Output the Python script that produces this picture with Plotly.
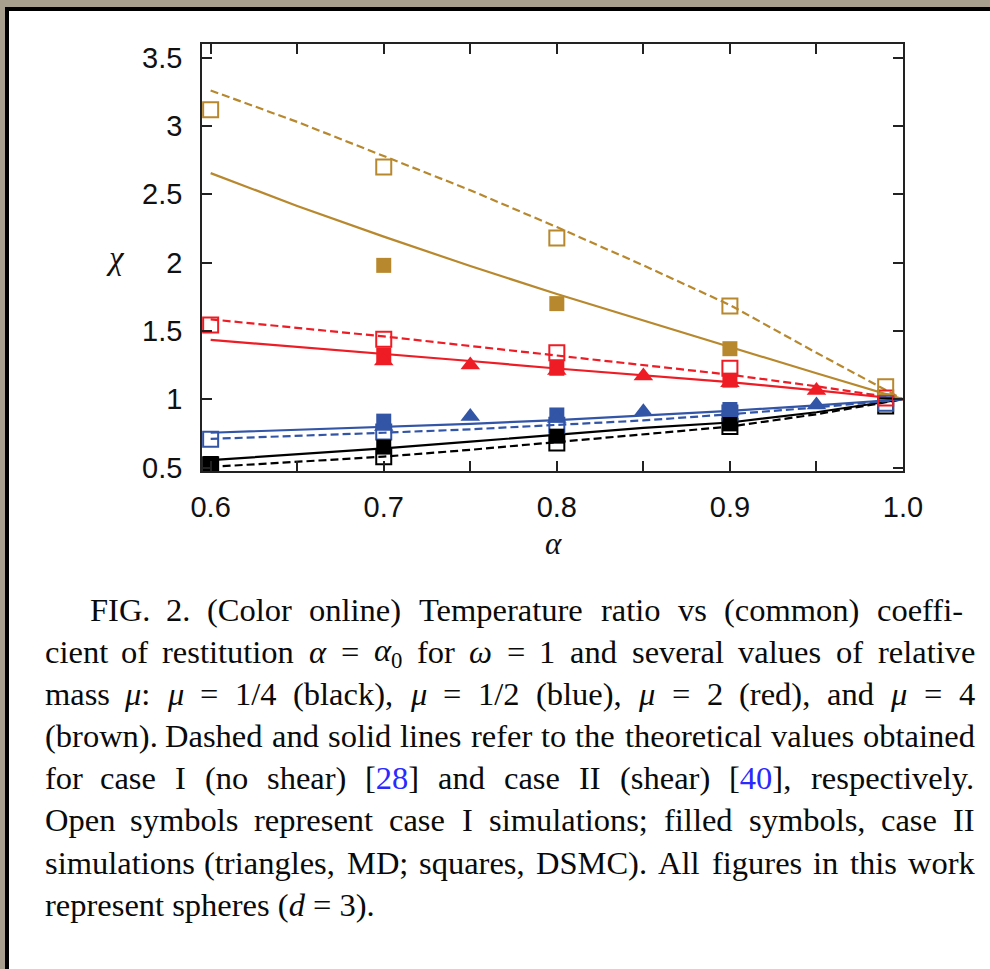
import re
import plotly.graph_objects as go

# ---------------- data ----------------
alpha_theory = [0.6, 0.65, 0.7, 0.75, 0.8, 0.85, 0.9, 0.95, 1.0]

# theory, case I (no shear) -> dashed ; case II (shear) -> solid
black_case1 = [0.505, 0.540, 0.580, 0.630, 0.685, 0.740, 0.800, 0.890, 1.0]
black_case2 = [0.555, 0.595, 0.640, 0.690, 0.740, 0.790, 0.830, 0.905, 1.0]
blue_case1 = [0.710, 0.730, 0.755, 0.780, 0.810, 0.845, 0.890, 0.940, 1.0]
blue_case2 = [0.755, 0.775, 0.795, 0.820, 0.848, 0.880, 0.915, 0.955, 1.0]
red_case1 = [1.585, 1.525, 1.460, 1.390, 1.320, 1.250, 1.180, 1.095, 1.0]
red_case2 = [1.435, 1.385, 1.335, 1.280, 1.225, 1.175, 1.125, 1.065, 1.0]
brown_case1 = [3.26, 3.03, 2.78, 2.53, 2.26, 1.98, 1.69, 1.34, 1.0]
brown_case2 = [2.655, 2.415, 2.19, 1.975, 1.77, 1.575, 1.385, 1.19, 1.0]

# case I simulations (open squares)
alpha_open = [0.6, 0.7, 0.8, 0.9, 0.99]
black_open = [0.52, 0.58, 0.68, 0.80, 0.95]
blue_open = [0.707, 0.76, 0.81, 0.90, 0.97]
red_open = [1.544, 1.44, 1.34, 1.227, 1.01]
brown_open = [3.118, 2.70, 2.18, 1.683, 1.092]

# case II DSMC simulations (filled squares)
alpha_dsmc_bk = [0.6, 0.7, 0.8, 0.9]
black_dsmc = [0.53, 0.65, 0.73, 0.82]
alpha_dsmc = [0.7, 0.8, 0.9]
blue_dsmc = [0.84, 0.885, 0.925]
red_dsmc = [1.324, 1.227, 1.14]
brown_dsmc = [1.98, 1.70, 1.37]

# case II MD simulations (filled triangles)
alpha_md = [0.7, 0.75, 0.8, 0.85, 0.9, 0.95]
blue_md = [0.80, 0.873, 0.86, 0.909, 0.915, 0.958]
red_md = [1.28, 1.25, 1.21, 1.17, 1.12, 1.065]

x_ticks = [0.6, 0.65, 0.7, 0.75, 0.8, 0.85, 0.9, 0.95, 1.0]
x_ticktext = ["0.6", "", "0.7", "", "0.8", "", "0.9", "", "1.0"]
y_ticks = [0.5, 1, 1.5, 2, 2.5, 3, 3.5]
y_ticktext = ["0.5", "1", "1.5", "2", "2.5", "3", "3.5"]

REF = "<span style='color:#2a2aff'>{}</span>"
caption_lines = [
    "FIG. 2. (Color online) Temperature ratio vs (common) coeffi-",
    "cient of restitution <i>α</i> = <i>α</i><sub>0</sub> for <i>ω</i> = 1 and several values of relative",
    "mass <i>μ</i>: <i>μ</i> = 1/4 (black), <i>μ</i> = 1/2 (blue), <i>μ</i> = 2 (red), and <i>μ</i> = 4",
    "(brown). Dashed and solid lines refer to the theoretical values obtained",
    "for case I (no shear) [" + REF.format("28") + "] and case II (shear) ["
    + REF.format("40") + "], respectively.",
    "Open symbols represent case I simulations; filled symbols, case II",
    "simulations (triangles, MD; squares, DSMC). All figures in this work",
    "represent spheres (<i>d</i> = 3).",
]

# ---------------- styling ----------------
BLACK = "#000000"
BLUE = "#3355a6"
RED = "#ee1c25"
BROWN = "#b8882e"

W, H = 990, 969
PX0, PX1, PY0, PY1 = 202, 903, 44, 471  # plotting area in pixels


def xp(px):
    return (px - PX0) / (PX1 - PX0)


def yp(py):
    return (PY1 - py) / (PY1 - PY0)


fig = go.Figure()

theory = [
    (black_case1, black_case2, BLACK),
    (blue_case1, blue_case2, BLUE),
    (red_case1, red_case2, RED),
    (brown_case1, brown_case2, BROWN),
]
for dashed, solid, col in theory:
    fig.add_trace(go.Scatter(x=alpha_theory, y=solid, mode="lines",
                             line=dict(color=col, width=2.2), showlegend=False))
    fig.add_trace(go.Scatter(x=alpha_theory, y=dashed, mode="lines",
                             line=dict(color=col, width=2.2, dash="8px,4px"),
                             showlegend=False))

for yv, col in [(black_open, BLACK), (blue_open, BLUE), (red_open, RED), (brown_open, BROWN)]:
    fig.add_trace(go.Scatter(x=alpha_open, y=yv, mode="markers",
                             marker=dict(symbol="square-open", size=15, color=col,
                                         line=dict(width=2, color=col)),
                             showlegend=False))

for xv, yv, col in [(alpha_dsmc_bk, black_dsmc, BLACK), (alpha_dsmc, blue_dsmc, BLUE),
                    (alpha_dsmc, red_dsmc, RED), (alpha_dsmc, brown_dsmc, BROWN)]:
    fig.add_trace(go.Scatter(x=xv, y=yv, mode="markers",
                             marker=dict(symbol="square", size=15, color=col,
                                         line=dict(width=0)),
                             showlegend=False))

for yv, col in [(blue_md, BLUE), (red_md, RED)]:
    fig.add_trace(go.Scatter(x=alpha_md, y=yv, mode="markers",
                             marker=dict(symbol="triangle-up", size=17, color=col,
                                         line=dict(width=0)),
                             showlegend=False))

axis_common = dict(
    showline=True, linewidth=1.6, linecolor="#222222", mirror="ticks",
    ticks="inside", ticklen=10, tickwidth=1.6, tickcolor="#222222",
    showgrid=False, zeroline=False,
    tickfont=dict(family="Liberation Sans, Arial, sans-serif", size=29, color="#111111"),
)

fig.update_xaxes(range=[0.595, 1.0], tickmode="array", tickvals=x_ticks,
                 ticktext=x_ticktext, ticklabelstandoff=9, **axis_common)
fig.update_yaxes(range=[0.475, 3.6], tickmode="array", tickvals=y_ticks,
                 ticktext=y_ticktext, ticklabelstandoff=12, **axis_common)

annotations = [
    dict(x=xp(115), y=yp(258), text="<i>χ</i>", showarrow=False,
         xref="paper", yref="paper", xanchor="center", yanchor="middle",
         font=dict(family="Liberation Serif, serif", size=33, color="#111111")),
    dict(x=xp(553), y=yp(543), text="<i>α</i>", showarrow=False,
         xref="paper", yref="paper", xanchor="center", yanchor="middle",
         font=dict(family="Liberation Serif, serif", size=31, color="#111111")),
]

# ---------------- justified caption ----------------
# advance widths of Liberation Serif (Times metrics), in 1/1000 em
_W = {" ": 250, "!": 333, "(": 333, ")": 333, ",": 250, "-": 333, ".": 250, "/": 278,
      ":": 278, ";": 278, "=": 564, "[": 333, "]": 333,
      "A": 722, "B": 667, "C": 667, "D": 722, "E": 611, "F": 556, "G": 722, "H": 722,
      "I": 333, "J": 389, "K": 722, "L": 611, "M": 889, "N": 722, "O": 722, "P": 556,
      "Q": 722, "R": 667, "S": 556, "T": 611, "U": 722, "V": 722, "W": 944, "X": 722,
      "Y": 722, "Z": 611,
      "a": 444, "b": 500, "c": 444, "d": 500, "e": 444, "f": 333, "g": 500, "h": 500,
      "i": 278, "j": 278, "k": 500, "l": 278, "m": 778, "n": 500, "o": 500, "p": 500,
      "q": 500, "r": 333, "s": 389, "t": 278, "u": 500, "v": 500, "w": 722, "x": 500,
      "y": 500, "z": 444, "α": 540, "μ": 520, "ω": 680}
for _d in "0123456789":
    _W[_d] = 500


def word_width(html, size):
    total = 0.0
    scale = 1.0
    for tok in re.split(r"(<[^>]+>)", html):
        if tok.startswith("<"):
            if tok == "<sub>":
                scale = 0.7
            elif tok == "</sub>":
                scale = 1.0
            continue
        for ch in tok:
            total += _W.get(ch, 500) * scale
    return total * size / 1000.0


def split_words(html):
    # split on spaces that are not inside a tag
    return re.split(r" (?![^<]*>)", html)


CAP_SIZE = 32.5
CAP_FONT = dict(family="Liberation Serif, Times New Roman, serif", size=CAP_SIZE, color="#0a0a0a")
line_y = [610, 652, 694, 736, 778, 820, 863, 905]
line_x = [88, 43, 43, 43, 43, 43, 43, 43]
line_right = [963, 975, 975, 975, 975, 975, 975, 975]

for i, (txt, ly, lx, rx) in enumerate(zip(caption_lines, line_y, line_x, line_right)):
    last = i == len(caption_lines) - 1
    if last:
        annotations.append(dict(x=xp(lx), y=yp(ly), text=txt, showarrow=False,
                                xref="paper", yref="paper", xanchor="left",
                                yanchor="middle", font=CAP_FONT))
        continue
    words = split_words(txt)
    widths = [word_width(w, CAP_SIZE) for w in words]
    gap = (rx - lx - sum(widths)) / (len(words) - 1)
    x = lx
    for k, (w, ww) in enumerate(zip(words, widths)):
        anchor, ax = ("left", x) if k == 0 else ("center", x + ww / 2)
        annotations.append(dict(x=xp(ax), y=yp(ly), text=w, showarrow=False,
                                xref="paper", yref="paper", xanchor=anchor,
                                yanchor="middle", font=CAP_FONT))
        x += ww + gap

# window frame around the page
shapes = [
    dict(type="rect", xref="paper", yref="paper", x0=xp(0), x1=xp(990), y0=yp(0), y1=yp(7),
         fillcolor="#a89f8f", line=dict(width=0), layer="above"),
    dict(type="rect", xref="paper", yref="paper", x0=xp(0), x1=xp(5), y0=yp(0), y1=yp(969),
         fillcolor="#a89f8f", line=dict(width=0), layer="above"),
    dict(type="rect", xref="paper", yref="paper", x0=xp(5), x1=xp(990), y0=yp(7), y1=yp(11),
         fillcolor="#000000", line=dict(width=0), layer="above"),
    dict(type="rect", xref="paper", yref="paper", x0=xp(5), x1=xp(9), y0=yp(7), y1=yp(969),
         fillcolor="#000000", line=dict(width=0), layer="above"),
]

fig.update_layout(
    width=W, height=H,
    margin=dict(l=PX0, r=W - PX1, t=PY0, b=H - PY1),
    paper_bgcolor="white", plot_bgcolor="white",
    annotations=annotations, shapes=shapes,
    showlegend=False,
)

fig.write_html("out.html")
